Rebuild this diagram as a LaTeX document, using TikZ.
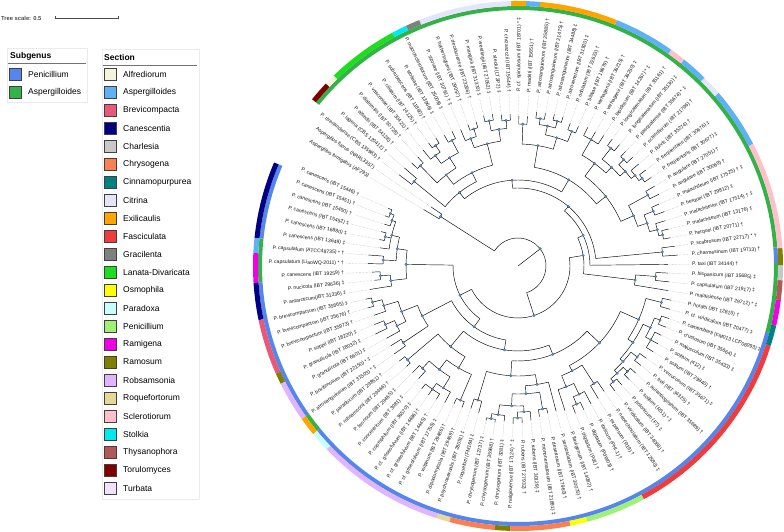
\documentclass[tikz,border=0pt]{standalone}
\usepackage{fontspec}
\setmainfont{Liberation Sans}
\usetikzlibrary{calc}
\definecolor{subP}{RGB}{84,134,238}
\definecolor{subA}{RGB}{51,178,72}
\definecolor{sAlf}{RGB}{244,244,220}
\definecolor{sAsp}{RGB}{96,176,246}
\definecolor{sBre}{RGB}{232,88,120}
\definecolor{sCan}{RGB}{0,0,128}
\definecolor{sCha}{RGB}{200,200,200}
\definecolor{sChr}{RGB}{250,128,82}
\definecolor{sCin}{RGB}{0,128,128}
\definecolor{sCit}{RGB}{228,228,250}
\definecolor{sExi}{RGB}{255,165,0}
\definecolor{sFas}{RGB}{240,60,60}
\definecolor{sGra}{RGB}{128,128,128}
\definecolor{sLan}{RGB}{30,220,30}
\definecolor{sOsm}{RGB}{255,255,0}
\definecolor{sPar}{RGB}{200,255,250}
\definecolor{sPen}{RGB}{160,240,120}
\definecolor{sRam}{RGB}{240,0,230}
\definecolor{sRas}{RGB}{128,128,0}
\definecolor{sRob}{RGB}{224,180,255}
\definecolor{sRoq}{RGB}{232,216,150}
\definecolor{sScl}{RGB}{255,192,203}
\definecolor{sSto}{RGB}{0,232,240}
\definecolor{sThy}{RGB}{178,88,88}
\definecolor{sTor}{RGB}{128,0,0}
\definecolor{sTur}{RGB}{240,226,255}
\definecolor{dotc}{RGB}{100,150,215}
\newcounter{lf}
\def\thz{156}\def\stp{3.3}
\gdef\dotlist{ROOT}
\newcommand\lf[2]{%
 \stepcounter{lf}%
 \pgfmathsetmacro\la{\thz+(\arabic{lf}-1)*\stp}%
 \expandafter\xdef\csname ta@\arabic{lf}\endcsname{\la}%
 \expandafter\xdef\csname tr@\arabic{lf}\endcsname{#1}%
 \draw[leader] (\la:#1) -- (\la:172);
 \pgfmathsetmacro\lc{cos(\la)}%
 \ifdim\lc pt>0pt
   \node[lab, anchor=west, rotate=\la] (L\arabic{lf}) at (\la:174) {#2};
 \else
   \pgfmathsetmacro\lr{\la-180}%
   \node[lab, anchor=east, rotate=\lr] (L\arabic{lf}) at (\la:174) {#2};
 \fi
}
\newcommand\nd[3]{%
 \gdef\amin{9999}\gdef\amax{-9999}%
 \foreach \ch in {#3}{%
   \edef\ca{\csname ta@\ch\endcsname}\edef\cr{\csname tr@\ch\endcsname}%
   \draw[br] (\ca:#2) -- (\ca:\cr);
   \pgfmathsetmacro\tmp{min(\amin,\ca)}\xdef\amin{\tmp}%
   \pgfmathsetmacro\tmp{max(\amax,\ca)}\xdef\amax{\tmp}%
 }%
 \draw[br] (\amin:#2) arc[start angle=\amin, end angle=\amax, radius=#2];
 \pgfmathsetmacro\am{(\amin+\amax)/2}%
 \expandafter\xdef\csname ta@#1\endcsname{\am}%
 \expandafter\xdef\csname tr@#1\endcsname{#2}%
 \coordinate (#1) at (\am:#2);
 \xdef\dotlist{\dotlist,#1}%
}
\newcommand\sseg[3]{\draw[line width=5pt, #3] (#1:262.5) arc[start angle=#1, end angle=#2, radius=262.5];}
\newcommand\gseg[3]{\draw[line width=4pt, #3] (#1:258) arc[start angle=#1, end angle=#2, radius=258];}
\begin{document}
\begin{tikzpicture}[x=1pt,y=1pt,
  br/.style={line width=0.45pt, black},
  leader/.style={line width=0.3pt, gray!70, dash pattern=on 0.5pt off 0.9pt},
  lab/.style={font=\fontsize{5.1}{5.5}\selectfont, inner sep=0pt, text=black!90},
  dotn/.style={fill=dotc, draw=dotc!60!black, line width=0.2pt},
  leg/.style={font=\fontsize{8.5}{10}\selectfont, anchor=west, inner sep=0pt},
  legt/.style={font=\fontsize{8.5}{10}\selectfont\bfseries, anchor=west, inner sep=0pt},
  sq/.style={minimum size=12pt, inner sep=0pt, draw=black!75, line width=0.7pt},
  lbox/.style={draw=black!8, fill=white, line width=0.6pt}
]
\useasboundingbox (0,0) rectangle (784,531);
\fill[white] (0,0) rectangle (784,531);
% tree scale
\node[font=\fontsize{5.8}{6}\selectfont\bfseries, text=black!70, anchor=west, inner sep=0pt] (ts) at (1,513) {Tree scale: 0.5};
\coordinate (sb1) at (55,513); \coordinate (sb2) at (118,513);
\draw[black!70, line width=0.5pt] (sb1) -- (sb2);
\draw[black!70, line width=0.5pt] ($(sb1)+(0,-1.5)$) -- ($(sb1)+(0,1.5)$) ($(sb2)+(0,-1.5)$) -- ($(sb2)+(0,1.5)$);
% legends
\draw[lbox] (7,429) rectangle (87,483);
\node[legt] (lgS) at (10,475) {Subgenus};
\draw[black!55, line width=0.8pt] (8,468) -- (86,468);
\node[sq, fill=subP] (qP) at (15.5,457) {}; \node[leg] (tP) at (28,457) {Penicillium};
\node[sq, fill=subA] (qA) at (15.5,439) {}; \node[leg] (tA) at (28,439) {Aspergilloides};
\draw[lbox] (102,32) rectangle (199,482);
\node[legt] (lgT) at (104,474) {Section};
\draw[black!55, line width=0.8pt] (103,466) -- (197,466);
\foreach \nm/\cl [count=\k from 0] in {Alfrediorum/sAlf,Aspergilloides/sAsp,Brevicompacta/sBre,Canescentia/sCan,Charlesia/sCha,Chrysogena/sChr,Cinnamopurpurea/sCin,Citrina/sCit,Exilicaulis/sExi,Fasciculata/sFas,Gracilenta/sGra,Lanata-Divaricata/sLan,Osmophila/sOsm,Paradoxa/sPar,Penicillium/sPen,Ramigena/sRam,Ramosum/sRas,Robsamsonia/sRob,Roquefortorum/sRoq,Sclerotiorum/sScl,Stolkia/sSto,Thysanophora/sThy,Torulomyces/sTor,Turbata/sTur}{
  \node[sq, fill=\cl] (q\k) at (110.5,457-18*\k) {};
  \node[leg] (t\k) at (123,457-18*\k) {\nm};
}
\begin{scope}[shift={(518,265)}]
% subgenus ring
\gseg{-203}{-186.1}{subP}
\gseg{-186.1}{-176.3}{subA}
\gseg{-176.3}{-144.7}{subP}
\gseg{-144.7}{-140.6}{subA}
\gseg{-140.6}{-14.9}{subP}
\gseg{-14.9}{0.7}{subA}
\gseg{0.7}{4.1}{subP}
\gseg{4.1}{141}{subA}
% section ring
\sseg{-203}{-186.1}{sCan}
\sseg{-186.1}{-182.8}{sAsp}
\sseg{-182.8}{-176.3}{sRam}
\sseg{-176.3}{-168.2}{sCan}
\sseg{-168.2}{-156}{sBre}
\sseg{-156}{-153.6}{sRas}
\sseg{-153.6}{-144.7}{sRob}
\sseg{-144.7}{-140.6}{sExi}
\sseg{-140.6}{-136.2}{sPar}
\sseg{-136.2}{-107.9}{sRob}
\sseg{-107.9}{-105}{sRoq}
\sseg{-105}{-95}{sChr}
\sseg{-95}{-91.7}{sRas}
\sseg{-91.7}{-78.6}{sChr}
\sseg{-78.6}{-74.8}{sOsm}
\sseg{-74.8}{-61.6}{sPen}
\sseg{-61.6}{-17.5}{sFas}
\sseg{-17.5}{-13}{sCin}
\sseg{-13}{-7.4}{sRam}
\sseg{-7.4}{-3.1}{sThy}
\sseg{-3.1}{0.2}{sCha}
\sseg{0.2}{3.9}{sRas}
\sseg{3.9}{27.5}{sScl}
\sseg{27.5}{40.8}{sAsp}
\sseg{40.8}{45.3}{sCit}
\sseg{45.3}{51.2}{sAsp}
\sseg{51.2}{54.7}{sScl}
\sseg{54.7}{68.1}{sAsp}
\sseg{68.1}{85.2}{sExi}
\sseg{85.2}{88.3}{sAsp}
\sseg{88.3}{91.5}{sExi}
\sseg{91.5}{111.9}{sCit}
\sseg{111.9}{115}{sGra}
\sseg{115}{118.4}{sSto}
\sseg{118.4}{134.1}{sLan}
\sseg{134.1}{136.5}{sAlf}
\sseg{136.5}{141}{sTor}
% leaves
\lf{142}{P. canescens (IBT 15446) †}
\lf{142}{P. canescens (IBT 15451) †}
\lf{140}{P. canescens (IBT 15450) †}
\lf{141}{P. canescens (IBT 15452) ‡}
\lf{141}{P. canescens (IBT 16880) ‡}
\lf{139}{P. canescens (IBT 13649) ‡}
\lf{150}{P. capsulatum (ATCC48735) * †}
\lf{150}{P. capsulatum (LiaoWQ-2011) * †}
\lf{146}{P. canescens (IBT 19259) †}
\lf{144}{P. nucicola (IBT 29636) ‡}
\lf{150}{P. antarcticum(IBT 31336) ‡}
\lf{156}{P. brevicompactum (IBT 35665) ‡}
\lf{156}{P. brevicompactum (IBT 35676) †}
\lf{152}{P. brevicompactum (IBT 35973) †}
\lf{155}{P. soppii (IBT 18220) ‡}
\lf{158}{P. granulicola (IBT 18032) ‡}
\lf{150}{P. granulicola (IBT 6601) ‡}
\lf{150}{P. bovifimosum (IBT 22150) * ‡}
\lf{152}{P. atrosanguineum (IBT 31503) * ‡}
\lf{152}{P. paradoxum (IBT 29851) †}
\lf{150}{P. robsamsonii (IBT 29466) †}
\lf{150}{P. fennoum (IBT 29465) ‡}
\lf{150}{P. concentricum (IBT 3081) ‡}
\lf{156}{P. coprophilum (IBT 36570) ‡}
\lf{157}{P. cf. griseofulvum (IBT 14486) †}
\lf{156}{P. cf. griseofulvum (IBT 14445) †}
\lf{155}{P. cf. griseofulvum (IBT 17755) ‡}
\lf{152}{P. vulpinum (IBT 29486) †}
\lf{152}{P. dipodomyicola (IBT 29459) †}
\lf{150}{P. psychrosexualis (IBT 28051) ‡}
\lf{152}{P. roqueforti (FM164) ‡}
\lf{158}{P. chrysogenum (IBT 12737) ‡}
\lf{158}{P. chrysogenum (IBT 35968) †}
\lf{156}{P. chrysogenum (IBT 3281) ‡}
\lf{158}{P. nalgiovense (IBT 17124) * ‡}
\lf{157}{P. rubens (IBT 27932) †}
\lf{155}{P. rubens (IBT 30129) ‡}
\lf{152}{P. mononematosum (IBT 21891) ‡}
\lf{150}{P. desertorum (IBT 17960) †}
\lf{150}{P. sentorulatum (IBT 30075) †}
\lf{152}{P. flavigenum (IBT 14082) †}
\lf{158}{P. digitatum (Pd1) †}
\lf{158}{P. digitatum (PdW03) †}
\lf{156}{P. italicum (PHI-1) †}
\lf{155}{P. expansum (R19) †}
\lf{152}{P. neoechinulatum (IBT 12580) ‡}
\lf{158}{P. viridicatum (IBT 34068) †}
\lf{158}{P. polonicum (F7) ‡}
\lf{159}{P. solitum (RS1) * ‡}
\lf{159}{P. aurantiogriseum (IBT 35689) †}
\lf{158}{P. freii (IBT 34325) †}
\lf{158}{P. verrucosum (IBT 35671) ‡}
\lf{160}{P. solitum (IBT 29840) †}
\lf{160}{P. solitum (412) ‡}
\lf{159}{P. majusculum (IBT 35433) ‡}
\lf{160}{P. crustosum (IBT 35664) ‡}
\lf{160}{P. camemberti (FM013 LCP06093) ‡}
\lf{158}{P. cf. viridicatum (IBT 20477) ‡}
\lf{157}{P. hordei (IBT 12815) †}
\lf{152}{P. malaisiense (IBT 29712) * ‡}
\lf{152}{P. capsulatum (IBT 21917) ‡}
\lf{150}{P. hispanicum (IBT 35685) ‡}
\lf{150}{P. taxi (IBT 34144) †}
\lf{160}{P. charmesinum (IBT 19713) †}
\lf{158}{P. scabrosum (IBT 22717) * †}
\lf{155}{P. herquei (IBT 20771) †}
\lf{155}{P. malachiteum (IBT 13176) ‡}
\lf{154}{P. malachiteum (IBT 17514) † ‡}
\lf{156}{P. herquei (IBT 29812) ‡}
\lf{154}{P. malachiteum (IBT 17525) † ‡}
\lf{158}{P. angulare (IBT 30069) †}
\lf{158}{P. angulare (IBT 27051) †}
\lf{160}{P. frequentans (IBT 30677) ‡}
\lf{160}{P. frequentans (IBT 30676) ‡}
\lf{158}{P. pulvis (IBT 35274) †}
\lf{158}{P. sclerotiorum (IBT 21796) †}
\lf{157}{P. pasqualense (IBT 35674) * ‡}
\lf{158}{P. longicatenatum (IBT 35130) ‡}
\lf{158}{P. longicatenatum (IBT 35161) †}
\lf{156}{P. lapidosum (IBT 14267) * ‡}
\lf{155}{P. verhagenii (IBT 36250) ‡}
\lf{155}{P. verhagenii (IBT 36215) †}
\lf{152}{P. bilaiae (IBT 19679) †}
\lf{152}{P. odoratum (IBT 22623) †}
\lf{156}{P. atrovenetum (IBT 31920) ‡}
\lf{156}{P. atrosanguineum (IBT 34488) ‡}
\lf{155}{P. atrosanguineum (IBT 21475) †}
\lf{155}{P. atrosanguineum (IBT 25885) †}
\lf{150}{P. madriti (IBT 15651) †}
\lf{150}{P. cf. spinulosum (IBT 18701) * ‡}
\lf{152}{P. chrzaszczii (IBT 15544) †}
\lf{152}{P. steckii (LT2P2) ‡}
\lf{154}{P. westlingii (IBT 27052) ‡}
\lf{154}{P. manginii (IBT 31370) ‡}
\lf{150}{P. decaturense (IBT 23266) †}
\lf{150}{P. hetheringtonii (IBT 29057) †}
\lf{148}{P. sizovae (IBT 30761) † ‡}
\lf{150}{P. macrosclerotiorum (IBT 25008) ‡}
\lf{150}{P. stolkiae (IBT 13966) ‡}
\lf{152}{P. subrubescens (IBT 11880) †}
\lf{152}{P. ciliatum (IBT 14125) †}
\lf{150}{P. vasconiae (IBT 30421) †}
\lf{148}{P. diatomitis (IBT 30728) †}
\lf{148}{P. alfredii (IBT 34128) †}
\lf{150}{P. lagena (CBS 120412) †}
\lf{150}{P. riverlandense (CBS 135983) †}
\lf{105}{Aspergillus flavus (NRRL3357)}
\lf{110}{Aspergillus fumigatus (AF293)}
% internal nodes: subgenus Penicillium side
\nd{A1}{138}{1,2}
\nd{A2}{134}{A1,3}
\nd{A3}{136}{4,5}
\nd{A4}{130}{A2,A3,6}
\nd{A5}{135}{7,8}
\nd{A6}{122}{A4,A5}
\nd{A7}{138}{9,10}
\nd{A8}{128}{A7,11}
\nd{A9}{112}{A6,A8}
\nd{B1}{150}{12,13}
\nd{B2}{140}{B1,14}
\nd{B3}{145}{15,16}
\nd{B4}{135}{B3,17}
\nd{B5}{125}{B2,B4}
\nd{B6}{138}{18,19}
\nd{B7}{108}{B5,B6}
\nd{C1}{145}{20,21}
\nd{C2}{140}{22,23}
\nd{C3}{150}{24,25,26}
\nd{C4}{143}{C3,27}
\nd{C5}{130}{C2,C4}
\nd{C6}{146}{28,29}
\nd{C7}{118}{C5,C6}
\nd{C8}{105}{C1,C7}
\nd{D1}{140}{30,31}
\nd{D2}{155}{32,33}
\nd{D3}{150}{D2,34}
\nd{D4}{152}{35,36}
\nd{D5}{146}{D4,37}
\nd{D6}{140}{D3,D5}
\nd{D7}{145}{38,39}
\nd{D8}{128}{D6,D7}
\nd{D9}{120}{D8,40}
\nd{D10}{110}{D1,D9}
\nd{E1}{150}{42,43}
\nd{E2}{142}{E1,44}
\nd{E3}{130}{41,E2}
\nd{E4}{140}{45,46}
\nd{E5}{118}{E3,E4}
\nd{F1}{150}{47,48}
\nd{F2}{152}{49,50}
\nd{F3}{146}{F1,F2}
\nd{F4}{150}{51,52}
\nd{F5}{142}{F3,F4}
\nd{F6}{152}{53,54,55}
\nd{F7}{152}{56,57}
\nd{F8}{146}{F6,F7}
\nd{F9}{138}{F5,F8}
\nd{F10}{148}{58,59}
\nd{F11}{132}{F9,F10}
\nd{F12}{112}{E5,F11}
\nd{G1}{95}{D10,F12}
\nd{G2}{85}{C8,G1}
\nd{G3}{75}{B7,G2}
\nd{G4}{65}{A9,G3}
% subgenus Aspergilloides side
\nd{H2}{138}{61,62}
\nd{H3}{118}{60,H2}
\nd{J1}{145}{64,65}
\nd{K1}{148}{66,67}
\nd{K2}{144}{K1,68}
\nd{K3}{146}{69,70}
\nd{K4}{136}{K2,K3}
\nd{K5}{148}{71,72}
\nd{K6}{126}{K4,K5}
\nd{L1}{152}{73,74}
\nd{L2}{148}{L1,75}
\nd{L3}{150}{76,77}
\nd{L4}{143}{L2,L3}
\nd{L5}{150}{78,79}
\nd{L6}{136}{L4,L5}
\nd{L7}{146}{80,81,82}
\nd{L8}{128}{L6,L7}
\nd{M1}{145}{83,84}
\nd{M2}{150}{85,86}
\nd{M3}{149}{87,88}
\nd{M4}{143}{M2,M3}
\nd{M5}{134}{M1,M4}
\nd{M6}{142}{89,90}
\nd{M7}{122}{M5,M6}
\nd{N1}{146}{91,92}
\nd{N2}{148}{93,94}
\nd{N3}{138}{N1,N2}
\nd{N4}{144}{95,96}
\nd{N5}{136}{N4,97}
\nd{N6}{126}{N3,N5}
\nd{O1}{142}{98,99}
\nd{O2}{146}{100,101}
\nd{O3}{138}{O2,102}
\nd{O4}{128}{O1,O3}
\nd{O5}{140}{103,104}
\nd{O6}{116}{O4,O5}
\nd{P1}{134}{105,106}
\nd{Q1}{112}{K6,L8}
\nd{Q2}{100}{Q1,M7}
\nd{Q3}{104}{N6,O6}
\nd{Q4}{94}{Q3,P1}
\nd{Q5}{86}{Q2,Q4}
\nd{Q6}{78}{J1,Q5}
\nd{Q7}{72}{63,Q6}
\nd{Q8}{66}{H3,Q7}
\nd{PEN}{52}{G4,Q8}
\nd{OG}{92}{107,108}
\nd{ROOT}{28}{PEN,OG}
\coordinate (CTR) at (0,0);
\draw[br] (CTR) -- (ROOT);
\foreach \d in \dotlist {\fill[dotn] (\d) circle (1.3);}
\end{scope}
\end{tikzpicture}
\end{document}
